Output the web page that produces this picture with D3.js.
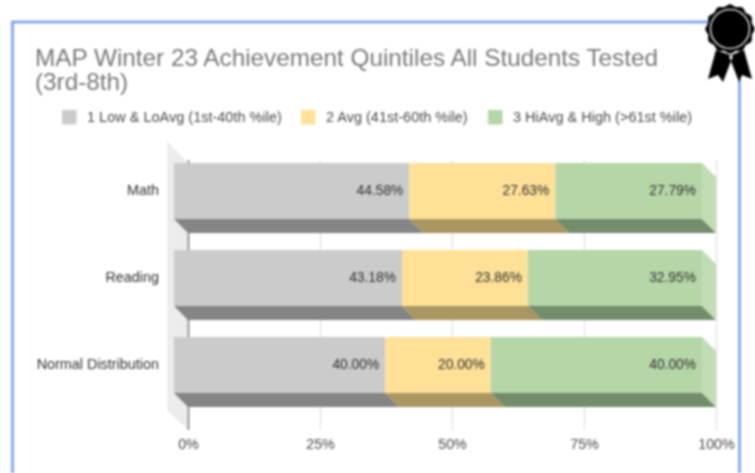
<!DOCTYPE html>
<html>
<head>
<meta charset="utf-8">
<script src="https://cdn.jsdelivr.net/npm/d3@7"></script>
<style>
html, body { margin: 0; padding: 0; background: #fff; overflow: hidden; }
svg { display: block; filter: blur(0.8px); font-family: "Liberation Sans", Arial, sans-serif; }
</style>
</head>
<body>
<svg id="chart" width="755" height="473"></svg>
<script>
var titleLines = ["MAP Winter 23 Achievement Quintiles All Students Tested", "(3rd-8th)"];
var categories = ["Math", "Reading", "Normal Distribution"];
var seriesNames = ["1 Low & LoAvg (1st-40th %ile)", "2 Avg (41st-60th %ile)", "3 HiAvg & High (>61st %ile)"];
var lowValues = [44.58, 43.18, 40.00];
var avgValues = [27.63, 23.86, 20.00];
var highValues = [27.79, 32.95, 40.00];
var tickValues = [0, 25, 50, 75, 100];

var frontColors = ["#cbcbcb", "#fee197", "#b5d6a7"];
var bottomColors = ["#858585", "#a99660", "#738c6b"];
var sideColor = "#c2dcb6";
var legendX = [62, 301, 488];

var svg = d3.select("#chart");
var depth = 14;

// back plane of the 3d plot, bars sit in front of it shifted by depth
var x = d3.scaleLinear().domain([0, 100]).range([188, 716]);
var y = d3.scaleBand().domain(categories).range([163, 393]).paddingInner(0.356);

//frame
svg.append("path")
	.attr("d", "M12.5,473V22H739.5V473")
	.attr("fill", "none")
	.attr("stroke", "#6f9cf0")
	.attr("stroke-width", 2.5);

//title
svg.selectAll(".title")
	.data(titleLines)
	.enter().append("text")
	.attr("class", "title")
	.attr("x", 35)
	.attr("y", function (d, i) { return 65.5 + i * 24.5; })
	.attr("font-size", 24.3)
	.attr("fill", "#7a7a7a")
	.text(function (d) { return d; });

//legend
var legend = svg.selectAll(".legend")
	.data(seriesNames)
	.enter().append("g")
	.attr("class", "legend")
	.attr("transform", function (d, i) { return "translate(" + legendX[i] + ",110)"; });
legend.append("rect")
	.attr("width", 14.5)
	.attr("height", 14.5)
	.attr("fill", function (d, i) { return frontColors[i]; });
legend.append("text")
	.attr("x", 25)
	.attr("y", 12)
	.attr("font-size", 14.5)
	.attr("fill", "#4a4a4a")
	.text(function (d) { return d; });

//side wall
svg.append("path")
	.attr("d", "M167,141L188,163V430L167,410Z")
	.attr("fill", "#ececec");

//gridlines and tick labels
var axis = svg.append("g")
	.attr("transform", "translate(0,430)")
	.call(d3.axisBottom(x)
		.tickValues(tickValues)
		.tickSize(-270)
		.tickPadding(9)
		.tickFormat(function (d) { return d + "%"; }));
axis.select(".domain").remove();
axis.selectAll("line")
	.attr("stroke", function (d) { return d === 0 ? "#777" : "#e4e4e4"; })
	.attr("stroke-width", 1.5);
axis.selectAll("text")
	.attr("font-family", "Liberation Sans, Arial, sans-serif")
	.attr("font-size", 14.3)
	.attr("fill", "#4a4a4a");

//bars
var stacked = categories.map(function (c, i) {
	var a = lowValues[i], b = avgValues[i], d = highValues[i];
	return [
		{ cat: c, s: 0, v0: 0, v1: a, v: a },
		{ cat: c, s: 1, v0: a, v1: a + b, v: b },
		{ cat: c, s: 2, v0: a + b, v1: a + b + d, v: d }
	];
});
function fx(v) { return x(v) - depth; }

var rows = svg.selectAll(".row")
	.data(stacked)
	.enter().append("g")
	.attr("class", "row");

rows.selectAll(".bottom")
	.data(function (d) { return d; })
	.enter().append("path")
	.attr("class", "bottom")
	.attr("fill", function (d) { return bottomColors[d.s]; })
	.attr("d", function (d) {
		var b = y(d.cat) + y.bandwidth();
		return "M" + fx(d.v0) + "," + b + "L" + fx(d.v1) + "," + b +
			"L" + x(d.v1) + "," + (b + depth) + "L" + x(d.v0) + "," + (b + depth) + "Z";
	});

rows.selectAll(".front")
	.data(function (d) { return d; })
	.enter().append("rect")
	.attr("class", "front")
	.attr("x", function (d) { return fx(d.v0); })
	.attr("y", function (d) { return y(d.cat); })
	.attr("width", function (d) { return fx(d.v1) - fx(d.v0); })
	.attr("height", y.bandwidth())
	.attr("fill", function (d) { return frontColors[d.s]; });

//right end of the last segment
rows.append("path")
	.attr("fill", sideColor)
	.attr("d", function (d) {
		var e = d[2].v1, t = y(d[0].cat), b = t + y.bandwidth();
		return "M" + fx(e) + "," + t + "L" + x(e) + "," + (t + depth) +
			"V" + (b + depth) + "L" + fx(e) + "," + b + "Z";
	});

rows.selectAll(".val")
	.data(function (d) { return d; })
	.enter().append("text")
	.attr("class", "val")
	.attr("x", function (d) { return fx(d.v1) - 6; })
	.attr("y", function (d) { return y(d.cat) + y.bandwidth() / 2 - 1; })
	.attr("dy", "0.35em")
	.attr("text-anchor", "end")
	.attr("font-size", 13.8)
	.attr("fill", "#303030")
	.text(function (d) { return d.v.toFixed(2) + "%"; });

//category labels
svg.selectAll(".cat")
	.data(categories)
	.enter().append("text")
	.attr("class", "cat")
	.attr("x", 159)
	.attr("y", function (d) { return y(d) + y.bandwidth() / 2 - 1; })
	.attr("dy", "0.35em")
	.attr("text-anchor", "end")
	.attr("font-size", 14.4)
	.attr("fill", "#303030")
	.text(function (d) { return d; });

//ribbon badge in the corner
var badge = svg.append("g");
badge.append("path")
	.attr("fill", "#000")
	.attr("d", "M716,50L708,79L718,75L723,82L733,56ZM744,50L752,79L742,75L739,82L729,56Z");
var scallop = d3.range(0, 96).map(function (i) {
	var a = i / 96 * 2 * Math.PI;
	return [a, 23.7 + 1 * Math.cos(a * 12)];
});
badge.append("path")
	.attr("transform", "translate(730,29)")
	.attr("fill", "#000")
	.attr("d", d3.lineRadial().curve(d3.curveCardinalClosed)(scallop));
badge.append("circle")
	.attr("cx", 730)
	.attr("cy", 29)
	.attr("r", 19.5)
	.attr("fill", "#000")
	.attr("stroke", "#d0d0d0")
	.attr("stroke-width", 1.6);
</script>
</body>
</html>
